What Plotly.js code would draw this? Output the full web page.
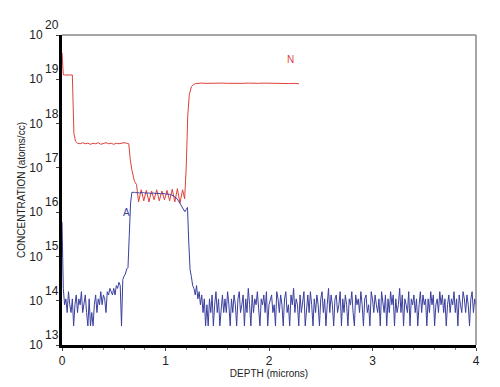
<!DOCTYPE html>
<html>
<head>
<meta charset="utf-8">
<script src="https://cdn.plot.ly/plotly-3.0.1.min.js"></script>
<style>html,body{margin:0;padding:0;background:#fff;}#chart{width:500px;height:387px;}</style>
</head>
<body>
<div id="chart"></div>
<script>
// ---- Data (depth in microns, concentration in atoms/cc) ----
const seriesNames = ["N", "A"];

const nDepth = [0, 0.0125, 0.025, 0.05, 0.075, 0.1, 0.115, 0.13,
  0.15, 0.175, 0.2, 0.225, 0.25, 0.275, 0.3, 0.325, 0.35, 0.375, 0.4, 0.425, 0.45, 0.475, 0.5, 0.525, 0.55, 0.575, 0.6, 0.625, 0.645,
  0.66, 0.675, 0.7, 0.72,
  0.74, 0.765, 0.79, 0.815, 0.84, 0.865, 0.89, 0.915, 0.94, 0.965, 0.99, 1.015, 1.04, 1.065, 1.09, 1.115, 1.14, 1.165, 1.185,
  1.2, 1.215, 1.23, 1.25, 1.27, 1.29, 1.31,
  1.35, 1.4, 1.45, 1.5, 1.55, 1.6, 1.65, 1.7, 1.75, 1.8, 1.85, 1.9, 1.95, 2.0, 2.05, 2.1, 2.15, 2.2, 2.25, 2.29];
const nConc = [4e19, 1.26e19, 1.25e19, 1.27e19, 1.25e19, 1.25e19, 6e17, 4e17,
  3.6e17, 3.5e17, 3.7e17, 3.5e17, 3.6e17, 3.4e17, 3.6e17, 3.5e17, 3.7e17, 3.4e17, 3.6e17, 3.7e17, 3.5e17, 3.6e17, 3.4e17, 3.6e17, 3.5e17, 3.6e17, 3.7e17, 3.6e17, 3.5e17,
  1.5e17, 9e16, 5e16, 4.2e16,
  1.7e16, 3.2e16, 1.8e16, 3.1e16, 1.7e16, 3e16, 1.9e16, 3.2e16, 1.8e16, 3e16, 1.9e16, 3.1e16, 1.8e16, 3.3e16, 1.7e16, 3.4e16, 1.6e16, 3.2e16, 2e16,
  1e17, 1.5e18, 4.5e18, 6.8e18, 7.6e18, 8e18, 8.1e18,
  8.2e18, 8.1e18, 8.2e18, 8.0e18, 8.2e18, 8.1e18, 8.0e18, 8.2e18, 8.1e18, 8.2e18, 8.0e18, 8.1e18, 8.2e18, 8.1e18, 8.0e18, 8.2e18, 8.1e18, 8.0e18, 8.1e18, 7.9e18];

// A profile: sampled every 0.0125 micron starting at depth 0
const aStartDepth = 0;
const aDepthStep = 0.0125;
const aSurface = [6e15,
  1.9e14,8.1e13,1.1e14,5.4e13,1.6e14,8.1e13,5.4e13,1.1e14,2.7e13,8.1e13,
  1.35e14,5.4e13,1.1e14,8.1e13,1.6e14,5.4e13,8.1e13,1.35e14,5.4e13,2.7e13,
  1.1e14,2.7e13,5.4e13,2.7e13,8.1e13,1.35e14,5.4e13,1.1e14,8.1e13,1.6e14,
  8.1e13,1.35e14,1.1e14,5.4e13,1.6e14,1.35e14,1.9e14];
const aRise = [1.6e14,1.35e14,1.9e14,1.35e14,2.2e14,1.9e14,2.6e14,2.2e14,2.7e13,3e14,3.6e14,4e14,5.2e14,5.6e14,3e15,1.6e16];
const aPlateau = [2.8e16,2.85e16,2.8e16,2.75e16,2.8e16,2.75e16,2.7e16,2.8e16,2.72e16,2.78e16,
  2.7e16,2.75e16,2.68e16,2.72e16,2.65e16,2.7e16,2.66e16,2.7e16,2.64e16,2.66e16,
  2.62e16,2.66e16,2.6e16,2.63e16,2.6e16,2.62e16,2.58e16,2.6e16,2.55e16,2.52e16,
  2.5e16,2.42e16,2.35e16,2.25e16,2.15e16,2e16,1.8e16,1.6e16,1.45e16,1.3e16,
  1.15e16,1.02e16,1.15e16,1.28e16,2e15,5e14,3.5e14,2.2e14];
const aTail = [
  1.9e14,1.35e14,2.2e14,1.1e14,1.6e14,8.1e13,1.35e14,5.4e13,1.1e14,2.7e13,
  8.1e13,2.7e13,1.1e14,5.4e13,1.35e14,2.7e13,8.1e13,1.6e14,5.4e13,1.1e14,
  2.7e13,8.1e13,1.35e14,5.4e13,1.1e14,5.4e13,1.6e14,8.1e13,2.7e13,1.1e14,
  5.4e13,1.35e14,8.1e13,2.7e13,1.1e14,1.6e14,5.4e13,8.1e13,1.35e14,2.7e13,
  1.1e14,5.4e13,1.9e14,8.1e13,2.7e13,1.35e14,5.4e13,1.1e14,8.1e13,1.6e14,
  5.4e13,2.7e13,1.1e14,8.1e13,1.35e14,5.4e13,1.6e14,2.7e13,8.1e13,1.1e14,
  1.35e14,5.4e13,8.1e13,2.7e13,1.6e14,1.1e14,5.4e13,1.35e14,8.1e13,2.7e13,
  1.1e14,1.6e14,5.4e13,8.1e13,2.7e13,1.35e14,8.1e13,1.9e14,5.4e13,1.1e14,
  8.1e13,2.7e13,1.35e14,5.4e13,1.1e14,1.6e14,2.7e13,8.1e13,1.35e14,5.4e13,
  1.6e14,8.1e13,2.7e13,1.1e14,5.4e13,1.35e14,8.1e13,2.7e13,1.1e14,1.6e14,
  5.4e13,1.1e14,2.7e13,8.1e13,1.9e14,5.4e13,1.35e14,8.1e13,2.7e13,1.1e14,
  1.35e14,5.4e13,8.1e13,1.6e14,2.7e13,1.1e14,5.4e13,1.35e14,8.1e13,2.7e13,
  1.1e14,8.1e13,1.6e14,5.4e13,2.7e13,1.35e14,8.1e13,1.1e14,5.4e13,1.6e14,
  8.1e13,2.7e13,1.1e14,1.35e14,5.4e13,8.1e13,2.7e13,1.6e14,1.1e14,5.4e13,
  1.35e14,8.1e13,5.4e13,1.1e14,2.7e13,1.6e14,8.1e13,5.4e13,1.35e14,2.7e13,
  1.1e14,5.4e13,1.6e14,8.1e13,1.35e14,2.7e13,1.1e14,5.4e13,8.1e13,1.9e14,
  5.4e13,1.35e14,2.7e13,1.1e14,8.1e13,5.4e13,1.6e14,2.7e13,1.1e14,8.1e13,
  1.35e14,5.4e13,1.1e14,2.7e13,8.1e13,1.6e14,5.4e13,1.35e14,8.1e13,1.1e14,
  2.7e13,1.1e14,5.4e13,1.6e14,8.1e13,1.35e14,2.7e13,8.1e13,1.1e14,5.4e13,
  1.6e14,8.1e13,1.35e14,5.4e13,1.1e14,2.7e13,8.1e13,1.35e14,5.4e13,1.1e14,
  8.1e13,1.6e14,5.4e13,1.1e14,2.7e13,1.35e14,8.1e13,5.4e13,1.6e14,1.1e14,
  5.4e13,1.35e14,8.1e13,2.7e13,1.1e14,1.6e14,5.4e13,1.1e14,8.1e13];
const aConc = aSurface.concat(aRise, aPlateau, aTail);

// Axis ticks
const xTickVals = [0, 1, 2, 3, 4];
const yDecades = [13, 14, 15, 16, 17, 18, 19, 20];
const yTickVals = yDecades.map(d => Math.pow(10, d));
const yTickText = yDecades.map(() => "10");

// Series label positions (depth, log10 concentration)
const labelDepth = [2.21, 0.62];
const labelLogConc = [19.44, 15.99];

// ---- Styling ----
const RED = "#e0413c";
const BLUE = "#3a3f9e";
const FONT = "Liberation Sans, Arial, sans-serif";

const traces = [
  {x: nDepth, y: nConc, type: "scatter", mode: "lines", name: seriesNames[0],
   line: {color: RED, width: 1}},
  {x0: aStartDepth, dx: aDepthStep, y: aConc, type: "scatter", mode: "lines", name: seriesNames[1],
   line: {color: BLUE, width: 1}}
];

const annotations = [];
yDecades.forEach(d => {
  annotations.push({xref: "paper", yref: "y", x: 0, y: d, text: String(d),
    showarrow: false, xanchor: "left", yanchor: "middle", xshift: -19, yshift: 10,
    font: {family: FONT, size: 12, color: "#222"}});
});
const labelColors = [RED, BLUE];
seriesNames.forEach((n, i) => {
  annotations.push({xref: "x", yref: "y", x: labelDepth[i], y: labelLogConc[i], text: n,
    showarrow: false, font: {family: FONT, size: 10, color: labelColors[i]}});
});

const layout = {
  width: 500, height: 387,
  margin: {l: 62, r: 24, t: 35, b: 42},
  paper_bgcolor: "#fff", plot_bgcolor: "#fff",
  showlegend: false,
  font: {family: FONT, color: "#222"},
  xaxis: {
    range: [0, 4], tickvals: xTickVals, ticktext: xTickVals.map(String),
    showgrid: false, zeroline: false,
    showline: true, linecolor: "#000", linewidth: 3,
    ticks: "outside", ticklen: 3, tickcolor: "#444",
    minor: {dtick: 0.2, ticks: "outside", ticklen: 2, tickcolor: "#777", showgrid: false},
    tickfont: {family: FONT, size: 12, color: "#222"},
    title: {text: "DEPTH (microns)", font: {family: FONT, size: 10, color: "#222"}, standoff: 0}
  },
  yaxis: {
    type: "log", range: [13, 20],
    tickvals: yTickVals, ticktext: yTickText,
    showgrid: false, zeroline: false,
    showline: true, linecolor: "#000", linewidth: 3,
    ticks: "outside", ticklen: 3, tickcolor: "#444",
    ticklabelstandoff: 11,
    tickfont: {family: FONT, size: 12, color: "#222"},
    title: {text: "CONCENTRATION (atoms/cc)", font: {family: FONT, size: 10, color: "#222"}, standoff: 2}
  },
  shapes: [
    {type: "line", xref: "paper", yref: "paper", x0: 0, x1: 1, y0: 1, y1: 1, line: {color: "#888", width: 1.5}},
    {type: "line", xref: "paper", yref: "paper", x0: 1, x1: 1, y0: 0, y1: 1, line: {color: "#888", width: 1.5}}
  ],
  annotations: annotations
};

Plotly.newPlot("chart", traces, layout, {displayModeBar: false, staticPlot: true});
</script>
</body>
</html>
